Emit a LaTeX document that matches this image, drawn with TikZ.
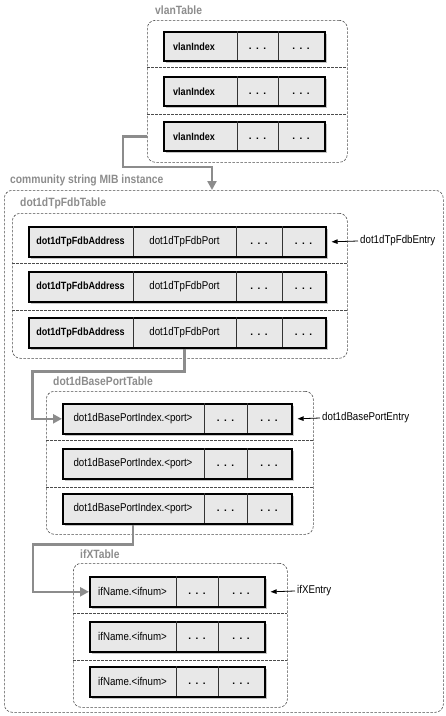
\documentclass[tikz,border=0pt]{standalone}
\usepackage{fontspec}
\setmainfont{Liberation Sans}
\newfontfamily\condfont{Liberation Sans}[FakeStretch=0.86]
\usetikzlibrary{arrows.meta,shadows,calc}

\newcommand{\rowdots}{.\hspace{4.5pt}.\hspace{4.5pt}.}

\tikzset{
  tablebox/.style={draw=black!70, dash pattern=on 2.5pt off 1.5pt, line width=0.6pt,
    rounded corners=8pt, anchor=north west, inner sep=0pt},
  sepline/.style={draw=black!70, dash pattern=on 2.5pt off 1.5pt, line width=0.6pt},
  rowbox/.style={draw=black, line width=1.6pt, fill=black!9, anchor=north west, inner sep=0pt,
    drop shadow={shadow xshift=2.5pt, shadow yshift=-2.5pt, fill=black!45, opacity=0.5}},
  celldiv/.style={draw=black!80, line width=0.6pt},
  keytext/.style={font=\condfont\fontsize{10.5}{12}\selectfont\bfseries, inner sep=0pt},
  celltext/.style={font=\condfont\fontsize{11.3}{13}\selectfont, inner sep=0pt},
  dotstext/.style={font=\fontsize{10}{11}\selectfont\bfseries, inner sep=0pt, yshift=-2pt},
  tabletitle/.style={font=\condfont\fontsize{12}{14}\selectfont\bfseries, text=black!45, anchor=west, inner sep=0pt},
  entrytext/.style={font=\condfont\fontsize{11.3}{13}\selectfont, anchor=west, inner sep=0pt},
  link/.style={draw=black!45, line width=2.6pt, -{Triangle[length=9pt,width=9pt]}},
  entryarrow/.style={line width=0.8pt, -{Triangle[length=6pt,width=4.5pt]}},
}

\begin{document}
\begin{tikzpicture}[x=1pt,y=-1pt]
  \useasboundingbox (0,0) rectangle (446,716);

  % outer instance and the four tables
  \node[tablebox, minimum width=439pt, minimum height=522pt] (community) at (4,190) {};
  \node[tabletitle] (communityTitle) at (10,180) {community string MIB instance};

  \node[tablebox, minimum width=200pt, minimum height=142pt] (vlanTable) at (147,20) {};
  \node[tabletitle] (vlanTitle) at (155,10) {vlanTable};
  \node[tablebox, minimum width=335pt, minimum height=145pt] (fdbTable) at (12,213) {};
  \node[tabletitle] (fdbTitle) at (20,203) {dot1dTpFdbTable};
  \node[tablebox, minimum width=267pt, minimum height=143pt] (baseTable) at (46,391) {};
  \node[tabletitle] (baseTitle) at (53,381) {dot1dBasePortTable};
  \node[tablebox, minimum width=214pt, minimum height=144pt] (ifxTable) at (73,563) {};
  \node[tabletitle] (ifxTitle) at (80,554) {ifXTable};

  \foreach \y in {67,114} \draw[sepline] (147,\y) -- (347,\y);
  \foreach \y in {263,310} \draw[sepline] (12,\y) -- (347,\y);
  \foreach \y in {440,487} \draw[sepline] (46,\y) -- (313,\y);
  \foreach \y in {613,660} \draw[sepline] (73,\y) -- (287,\y);

  % vlanTable rows
  \foreach \i/\y in {1/31,2/76,3/121}{
    \node[rowbox, minimum width=161pt, minimum height=29pt] (vlan\i) at (163,\y) {};
    \draw[celldiv] (237,\y) -- ++(0,29);
    \draw[celldiv] (278,\y) -- ++(0,29);
    \node[keytext, anchor=west] (vlanidx\i) at ($(vlan\i.west)+(10,0)$) {vlanIndex};
    \node[dotstext] at ($(vlan\i.west)+(94.5,0)$) {\rowdots};
    \node[dotstext] at ($(vlan\i.west)+(138,0)$) {\rowdots};
  }

  % dot1dTpFdbTable rows
  \foreach \i/\y in {1/226,2/271,3/317}{
    \node[rowbox, minimum width=297pt, minimum height=30pt] (fdb\i) at (28,\y) {};
    \draw[celldiv] (133,\y) -- ++(0,30);
    \draw[celldiv] (236,\y) -- ++(0,30);
    \draw[celldiv] (282,\y) -- ++(0,30);
    \node[keytext] (fdbaddr\i) at ($(fdb\i.west)+(52.5,0)$) {dot1dTpFdbAddress};
    \node[celltext] (fdbport\i) at ($(fdb\i.west)+(156.5,0)$) {dot1dTpFdbPort};
    \node[dotstext] at ($(fdb\i.west)+(231,0)$) {\rowdots};
    \node[dotstext] at ($(fdb\i.west)+(275.5,0)$) {\rowdots};
  }

  % dot1dBasePortTable rows
  \foreach \i/\y in {1/403,2/448,3/493}{
    \node[rowbox, minimum width=229pt, minimum height=30pt] (base\i) at (62,\y) {};
    \draw[celldiv] (204,\y) -- ++(0,30);
    \draw[celldiv] (247,\y) -- ++(0,30);
    \node[celltext] (baseidx\i) at ($(base\i.west)+(71,0)$) {dot1dBasePortIndex.<port>};
    \node[dotstext] at ($(base\i.west)+(163.5,0)$) {\rowdots};
    \node[dotstext] at ($(base\i.west)+(207,0)$) {\rowdots};
  }

  % ifXTable rows
  \foreach \i/\y in {1/576,2/621,3/666}{
    \node[rowbox, minimum width=175pt, minimum height=30pt] (ifx\i) at (89,\y) {};
    \draw[celldiv] (176,\y) -- ++(0,30);
    \draw[celldiv] (218,\y) -- ++(0,30);
    \node[celltext] (ifname\i) at ($(ifx\i.west)+(43.5,0)$) {ifName.<ifnum>};
    \node[dotstext] at ($(ifx\i.west)+(108,0)$) {\rowdots};
    \node[dotstext] at ($(ifx\i.west)+(152,0)$) {\rowdots};
  }

  % links between tables
  \coordinate (communityIn) at (212,190);
  \draw[link] (vlan3.west -| vlanTable.west) -- ++(-24,0) |- ($(communityIn)+(0,-23)$) -- (communityIn);
  \draw[link] (fdbport3 |- fdb3.south) |- ++(-152,23) |- (base1.west);
  \draw[link] (baseidx3 |- base3.south) |- ++(-100,20) |- (ifx1.west);

  % entry labels
  \node[entrytext] (fdbEntry) at (360,241) {dot1dTpFdbEntry};
  \node[entrytext] (baseEntry) at (322,418) {dot1dBasePortEntry};
  \node[entrytext] (ifxEntry) at (297,591) {ifXEntry};
  \draw[entryarrow] ([xshift=-2pt]fdbEntry.west) -- ([xshift=5pt]fdb1.east);
  \draw[entryarrow] ([xshift=-2pt]baseEntry.west) -- ([xshift=5pt]base1.east);
  \draw[entryarrow] ([xshift=-2pt]ifxEntry.west) -- ([xshift=5pt]ifx1.east);
\end{tikzpicture}
\end{document}
